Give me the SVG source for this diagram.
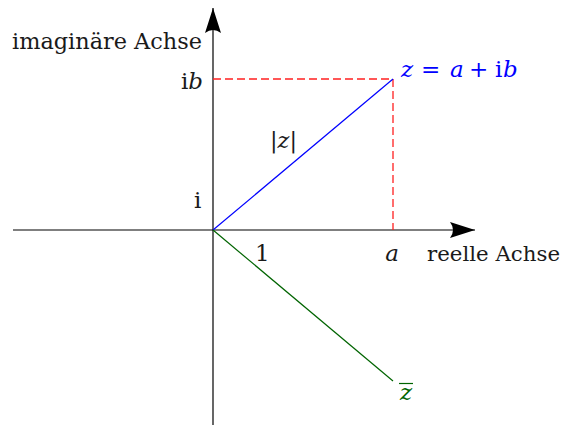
<svg xmlns="http://www.w3.org/2000/svg" width="566" height="425" viewBox="0 0 566 425">
<style>
text { font-family: "DejaVu Serif", serif; font-size: 23px; fill: #1a1a1a; }
.it { font-style: italic; }
.blue { fill: #0000ff; }
.green { fill: #006400; }
.axis { stroke: #000; stroke-width: 1.2; fill: none; }
.dash { stroke: #ff2020; stroke-width: 1.3; stroke-dasharray: 8,4; fill: none; }
</style>
<defs>
<marker id="ah" markerWidth="26" markerHeight="18" refX="25" refY="8" orient="auto" markerUnits="userSpaceOnUse">
<path d="M0,0 Q6,8 0,16 L25,8 Z" fill="#000"/>
</marker>
</defs>
<rect width="566" height="425" fill="#fff"/>
<g id="connectors">
<line class="axis" x1="13" y1="230" x2="475" y2="230" marker-end="url(#ah)"/>
<line class="axis" x1="213" y1="425" x2="213" y2="8" marker-end="url(#ah)"/>
<polyline class="dash" points="213,79 393,79 393,230"/>
<line x1="213" y1="230" x2="393" y2="79" stroke="#0000ff" stroke-width="1.2"/>
<line x1="213" y1="230" x2="393" y2="381" stroke="#006400" stroke-width="1.2"/>
</g>
<g id="label-imag"><text x="202" y="49" text-anchor="end" textLength="190" lengthAdjust="spacingAndGlyphs">imaginäre Achse</text></g>
<g id="label-ib"><text x="203" y="89" text-anchor="end">i<tspan class="it">b</tspan></text></g>
<g id="label-z"><text y="77" class="blue"><tspan x="401" class="it">z</tspan><tspan x="421">=</tspan><tspan x="450" class="it">a</tspan><tspan x="469">+</tspan><tspan x="495">i</tspan><tspan x="503" class="it">b</tspan></text></g>
<g id="label-abs"><text x="270" y="148" textLength="27" lengthAdjust="spacingAndGlyphs">|<tspan class="it">z</tspan>|</text></g>
<g id="label-i"><text x="194" y="208">i</text></g>
<g id="label-1"><text x="255" y="261">1</text></g>
<g id="label-a"><text x="392" y="261" text-anchor="middle" class="it">a</text></g>
<g id="label-real"><text x="427" y="261" style="font-size:21px" textLength="133" lengthAdjust="spacingAndGlyphs">reelle Achse</text></g>
<g id="label-zbar"><text x="400" y="400" class="it green">z</text><line x1="399" y1="383.5" x2="413" y2="383.5" stroke="#006400" stroke-width="1.2"/></g>
</svg>
